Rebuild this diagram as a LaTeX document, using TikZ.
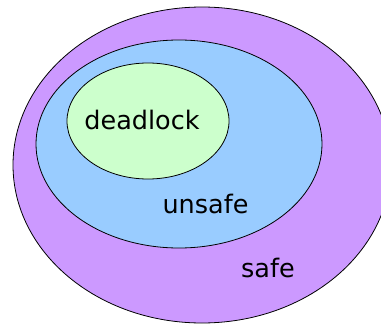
\documentclass[tikz,border=0pt]{standalone}
\usepackage{fontspec}
\setmainfont{DejaVu Sans}
\definecolor{safec}{HTML}{CC99FF}
\definecolor{unsafec}{HTML}{99CCFF}
\definecolor{deadc}{HTML}{CCFFCC}
\begin{document}
\begin{tikzpicture}[x=1pt,y=-1pt,
  region/.style={draw=black,line width=0.8pt},
  lbl/.style={anchor=base,inner sep=0pt,font=\fontsize{25.5}{30}\selectfont}]
\useasboundingbox (0,0) rectangle (381,324);
\clip (0,0) rectangle (381,324);
\fill[white] (0,0) rectangle (381,324);
\path[region,fill=safec] (202,165) ellipse [x radius=189, y radius=158];
\path[region,fill=unsafec] (179,144) ellipse [x radius=143, y radius=104];
\path[region,fill=deadc] (148,121) ellipse [x radius=81, y radius=58];
\node[lbl] (dl) at (142,129) {deadlock};
\node[lbl] (us) at (205.5,213) {unsafe};
\node[lbl] (sf) at (268,277) {safe};
\end{tikzpicture}
\end{document}
